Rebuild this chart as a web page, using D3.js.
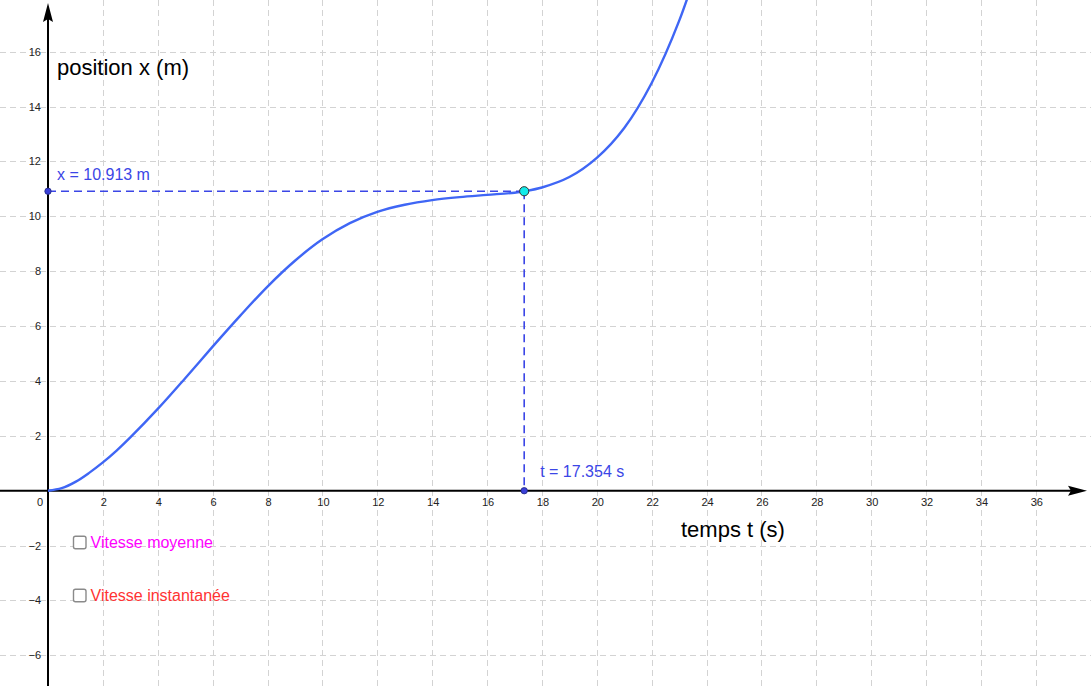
<!DOCTYPE html>
<html><head><meta charset="utf-8">
<script src="https://cdn.jsdelivr.net/npm/d3@7"></script>
<style>html,body{margin:0;padding:0;background:#fff;overflow:hidden}svg{display:block}</style>
</head><body>
<svg id="c" width="1091" height="686"></svg>
<script>
// Data
const timeValues = [0, 0.5, 1, 1.5, 2, 2.5, 3, 4, 5, 6, 7, 8, 9, 10, 11, 12, 13, 14, 15, 16, 17, 17.354, 18, 19, 20, 21, 22, 23, 24];
const positionValues = [0, 0.09, 0.32, 0.65, 1.03, 1.46, 1.94, 2.98, 4.10, 5.25, 6.37, 7.44, 8.38, 9.16, 9.75, 10.16, 10.42, 10.59, 10.70, 10.78, 10.86, 10.913, 11.05, 11.43, 12.13, 13.22, 14.86, 17.12, 20.1];
const xTicks = [2, 4, 6, 8, 10, 12, 14, 16, 18, 20, 22, 24, 26, 28, 30, 32, 34, 36];
const yTicks = [-6, -4, -2, 2, 4, 6, 8, 10, 12, 14, 16];
const gridX = [2, 4, 6, 8, 10, 12, 14, 16, 18, 20, 22, 24, 26, 28, 30, 32, 34, 36, 38];
const gridY = [-6, -4, -2, 2, 4, 6, 8, 10, 12, 14, 16];
const pointT = [17.354];
const pointX = [10.913];
const checkboxLabels = ["Vitesse moyenne", "Vitesse instantanée"];

const W = 1091, H = 686;
const unit = 27.44, ox = 48, oy = 490.7;
const x = d3.scaleLinear().domain([0, 36]).range([ox, ox + 36 * unit]);
const y = d3.scaleLinear().domain([0, 16]).range([oy, oy - 16 * unit]);
const svg = d3.select("#c");
const font = "'Liberation Sans', Arial, sans-serif";

svg.append("rect").attr("width", W).attr("height", H).attr("fill", "#fff");

// grid
const g = svg.append("g").attr("stroke", "#d3d3d3").attr("stroke-width", 1).attr("stroke-dasharray", "6,4");
g.selectAll(".gx").data(gridX).join("line")
  .attr("x1", d => Math.round(x(d)) + 0.5).attr("x2", d => Math.round(x(d)) + 0.5)
  .attr("y1", 0).attr("y2", H);
g.selectAll(".gy").data(gridY).join("line")
  .attr("y1", d => Math.round(y(d)) + 0.5).attr("y2", d => Math.round(y(d)) + 0.5)
  .attr("x1", 0).attr("x2", W);

// axes
svg.append("line").attr("x1", 0).attr("x2", 1072).attr("y1", oy).attr("y2", oy).attr("stroke", "#000").attr("stroke-width", 2);
svg.append("path").attr("d", `M1087,${oy} L1068,${oy - 5} L1071,${oy} L1068,${oy + 5} Z`).attr("fill", "#000");
svg.append("line").attr("x1", ox).attr("x2", ox).attr("y1", H).attr("y2", 18).attr("stroke", "#000").attr("stroke-width", 2);
svg.append("path").attr("d", `M${ox},3 L${ox - 5},22 L${ox},19 L${ox + 5},22 Z`).attr("fill", "#000");

// tick labels
svg.append("g").selectAll("text").data(xTicks).join("text")
  .attr("x", d => x(d) + 1).attr("y", oy + 15.5).attr("text-anchor", "middle")
  .attr("font-family", font).attr("font-size", 11).attr("fill", "#222").text(d => d);
svg.append("g").selectAll("text").data(yTicks).join("text")
  .attr("x", ox - 7).attr("y", d => y(d) + 4).attr("text-anchor", "end")
  .attr("font-family", font).attr("font-size", 11).attr("fill", "#222")
  .text(d => d < 0 ? "\u2212" + Math.abs(d) : d);
svg.append("text").attr("x", ox - 8).attr("y", oy + 15.5).attr("text-anchor", "middle")
  .attr("font-family", font).attr("font-size", 11).attr("fill", "#222").text("0");

// axis titles
svg.append("text").attr("x", 57).attr("y", 75).attr("font-family", font).attr("font-size", 22).attr("fill", "#000").text("position x (m)");
svg.append("text").attr("x", 681).attr("y", 537).attr("font-family", font).attr("font-size", 22).attr("fill", "#000").text("temps t (s)");

// curve
svg.append("clipPath").attr("id", "clip").append("rect").attr("x", 0).attr("y", 0).attr("width", W).attr("height", H);
const pts = timeValues.map((t, i) => [t, positionValues[i]]);
const line = d3.line().x(d => x(d[0])).y(d => y(d[1])).curve(d3.curveCatmullRom.alpha(0.5));
svg.append("path").attr("d", line(pts)).attr("fill", "none").attr("stroke", "#3f66f5")
  .attr("stroke-width", 2.4).attr("clip-path", "url(#clip)");

// dashed projections
const blue = "#3b46e6";
const px = x(pointT[0]), py = y(pointX[0]);
svg.append("line").attr("x1", ox).attr("x2", px).attr("y1", py).attr("y2", py)
  .attr("stroke", blue).attr("stroke-width", 1.6).attr("stroke-dasharray", "8,5");
svg.append("line").attr("x1", px).attr("x2", px).attr("y1", py).attr("y2", oy)
  .attr("stroke", blue).attr("stroke-width", 1.6).attr("stroke-dasharray", "8,5");
svg.append("circle").attr("cx", ox).attr("cy", py).attr("r", 3.2).attr("fill", "#3a3fd8").attr("stroke", "#222a80").attr("stroke-width", 0.8);
svg.append("circle").attr("cx", px).attr("cy", oy).attr("r", 3.2).attr("fill", "#3a3fd8").attr("stroke", "#222a80").attr("stroke-width", 0.8);
svg.append("circle").attr("cx", px).attr("cy", py).attr("r", 4.6).attr("fill", "#13eaea").attr("stroke", "#333").attr("stroke-width", 1);

svg.append("text").attr("x", 57).attr("y", 180).attr("font-family", font).attr("font-size", 16).attr("fill", blue)
  .text("x = " + pointX[0].toFixed(3) + " m");
svg.append("text").attr("x", px + 16).attr("y", 476.5).attr("font-family", font).attr("font-size", 16).attr("fill", blue)
  .text("t = " + pointT[0].toFixed(3) + " s");

// checkboxes
const cbColors = ["#ff00ff", "#ff3333"];
checkboxLabels.forEach((lab, i) => {
  const cy = 542.7 + i * 53;
  svg.append("rect").attr("x", 73.5).attr("y", cy - 6.5).attr("width", 12.5).attr("height", 12.5).attr("rx", 2)
    .attr("fill", "#fff").attr("stroke", "#8a8a8a").attr("stroke-width", 1.4);
  svg.append("text").attr("x", 90.5).attr("y", cy + 5.7).attr("font-family", font).attr("font-size", 16)
    .attr("fill", cbColors[i]).text(lab);
});
</script>
</body></html>
